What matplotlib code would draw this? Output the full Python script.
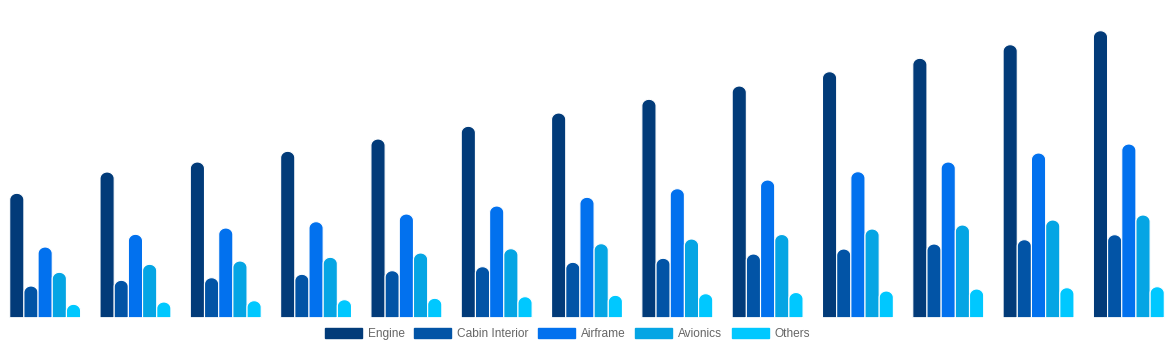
import matplotlib.pyplot as plt
import numpy as np
from matplotlib.path import Path
from matplotlib.patches import PathPatch

plt.rcParams['font.family'] = ['Liberation Sans', 'DejaVu Sans']

# values (13 periods, 5 segments)
groups = list(range(13))
series = ["Engine", "Cabin Interior", "Airframe", "Avionics", "Others"]
engine = [12.44, 14.57, 15.57, 16.64, 17.87, 19.14, 20.47, 21.84, 23.17, 24.60, 25.94, 27.30, 28.70]
cabin = [3.17, 3.74, 4.00, 4.34, 4.70, 5.10, 5.54, 5.94, 6.37, 6.87, 7.37, 7.80, 8.30]
airframe = [7.07, 8.34, 8.97, 9.60, 10.37, 11.17, 12.04, 12.90, 13.77, 14.60, 15.57, 16.47, 17.37]
avionics = [4.54, 5.34, 5.67, 6.04, 6.47, 6.90, 7.40, 7.87, 8.32, 8.87, 9.27, 9.77, 10.27]
others = [1.34, 1.57, 1.70, 1.80, 1.94, 2.10, 2.24, 2.40, 2.52, 2.67, 2.87, 3.00, 3.10]
colors = ["#023b79", "#0254a6", "#0271ee", "#05a5e4", "#00c8ff"]

fig = plt.figure(figsize=(11.74, 3.5), dpi=100)
ax = fig.add_axes([0, 32.3 / 350, 1, 317.7 / 350])
ax.set_xlim(-0.5, 12.5)
ax.set_ylim(0, 31.77)
ax.axis("off")

x = np.arange(len(groups))
bw = 0.157
all_series = [engine, cabin, airframe, avionics, others]


def round_top(bar, r_px=6.5):
    # swap a plain bar for one with a rounded top
    x0, w, h = bar.get_x(), bar.get_width(), bar.get_height()
    ry = r_px * 31.77 / 317.7
    ry = min(ry, h)
    t = np.linspace(0, np.pi, 30)
    xs = np.concatenate([[x0 + w, x0 + w], x0 + w / 2 + (w / 2) * np.cos(t), [x0, x0 + w]])
    ys = np.concatenate([[0, h - ry], h - ry + ry * np.sin(t), [0, 0]])
    patch = PathPatch(Path(np.column_stack([xs, ys])), facecolor=bar.get_facecolor(),
                      edgecolor="white", linewidth=0.8)
    bar.remove()
    ax.add_patch(patch)


for i, (vals, name, c) in enumerate(zip(all_series, series, colors)):
    bars = ax.bar(x + (i - 2) * bw, vals, bw, color=c, label=name)
    for b in bars:
        round_top(b)

handles = [plt.Rectangle((0, 0), 1, 1, color=c) for c in colors]
fig.legend(handles, series, loc="center", bbox_to_anchor=(567.5 / 1174, 1 - 334 / 350), ncol=5,
           frameon=False, fontsize=8.6, labelcolor="#666666", handlelength=3.1,
           handleheight=1.0, handletextpad=0.5, columnspacing=0.8,
           borderpad=0, borderaxespad=0)

fig.savefig("out.png", dpi=100)
